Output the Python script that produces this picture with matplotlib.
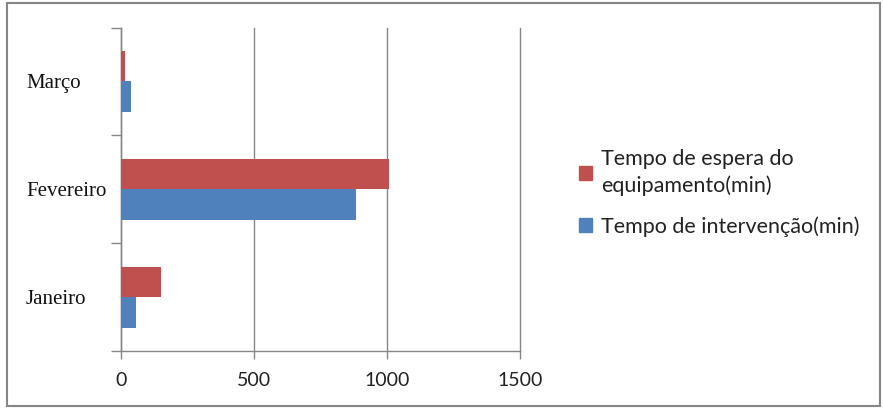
import matplotlib.pyplot as plt
from matplotlib.patches import Rectangle
from matplotlib.ticker import FixedLocator

# Data
categories = ["Janeiro", "Fevereiro", "Março"]
espera = [152, 1009, 15]        # Tempo de espera do equipamento (min)
intervencao = [55, 884, 36]     # Tempo de intervenção (min)
series_labels = ["Tempo de espera do\nequipamento(min)", "Tempo de intervenção(min)"]
xticks = [0, 500, 1000, 1500]

red = "#C0504D"
blue = "#4F81BD"
grid_c = "#868686"

fig = plt.figure(figsize=(8.83, 4.08), dpi=100)
ax = fig.add_axes([121 / 883, 1 - 351 / 408, (520 - 121) / 883, (351 - 27.5) / 408])

h = 0.283
y = list(range(len(categories)))
ax.barh([v - h / 2 for v in y], intervencao, height=h, color=blue, zorder=3)
ax.barh([v + h / 2 for v in y], espera, height=h, color=red, zorder=3)

ax.set_xlim(0, 1500)
ax.set_ylim(-0.5, len(categories) - 0.5)
ax.set_xticks(xticks)
ax.set_xticklabels([str(t) for t in xticks], fontsize=14, family="Lato", color="#222222")
ax.xaxis.grid(True, color=grid_c, linewidth=1.0, zorder=0)
for gl in ax.get_xgridlines():
    gl.set_clip_on(False)
ax.tick_params(axis="x", length=6, width=1, color=grid_c, pad=9)

ax.set_yticks(y)
ax.set_yticklabels(categories, fontsize=15, family="Liberation Serif", color="#111111")
for lbl in ax.get_yticklabels():
    lbl.set_horizontalalignment("left")
ax.yaxis.set_minor_locator(FixedLocator([-0.5, 0.5, 1.5, 2.5]))
ax.tick_params(axis="y", which="major", length=0, pad=(121 - 26) * 0.72)
ax.tick_params(axis="y", which="minor", length=7, width=1, color=grid_c)

for s in ["top", "right"]:
    ax.spines[s].set_visible(False)
for s in ["left", "bottom"]:
    ax.spines[s].set_color(grid_c)
    ax.spines[s].set_linewidth(1.0)

# Legend
handles = [Rectangle((0, 0), 1, 1, color=red), Rectangle((0, 0), 1, 1, color=blue)]
leg = fig.legend(handles, series_labels, loc="center left",
                 bbox_to_anchor=(560 / 883, 1 - 193 / 408), frameon=False,
                 prop={"family": "Lato", "size": 15.5},
                 handlelength=0.6, handleheight=0.6, handletextpad=0.4,
                 labelspacing=0.95, labelcolor="#222222")
for t in leg.get_texts():
    t.set_linespacing(1.35)

# Outer border
fig.patches.append(Rectangle((7 / 883, 2 / 408), (880 - 7) / 883, (405 - 2) / 408,
                             transform=fig.transFigure, fill=False,
                             edgecolor=grid_c, linewidth=1.5))

fig.savefig("out.png", dpi=100)
